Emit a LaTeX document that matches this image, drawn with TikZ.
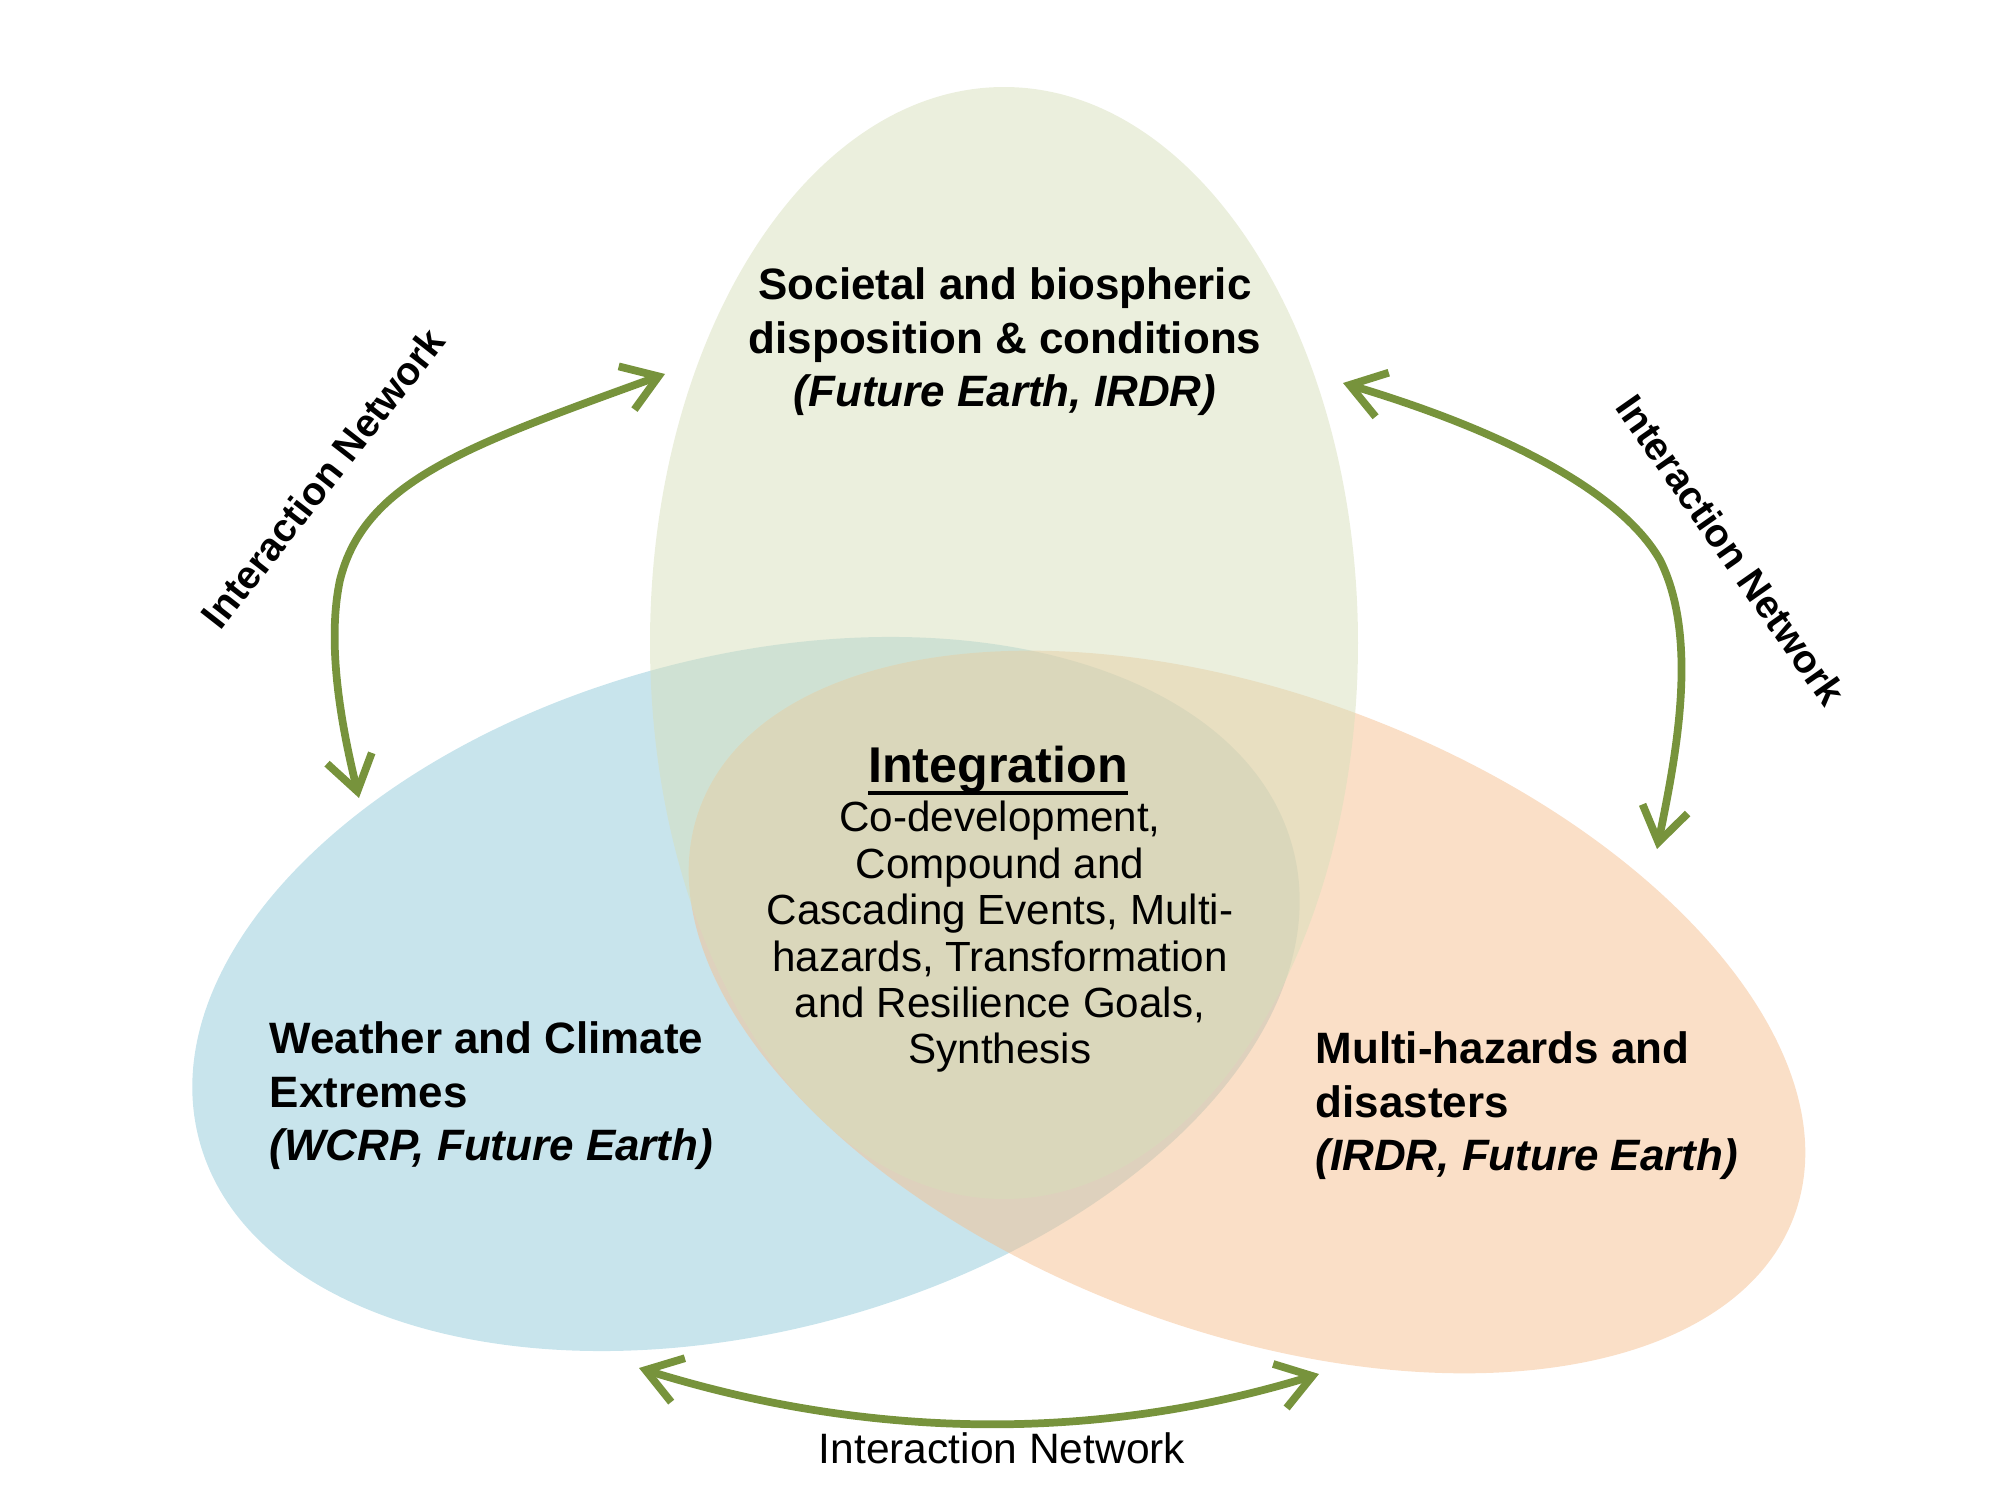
\documentclass[tikz,border=0pt]{standalone}
\usepackage{fontspec}
\setmainfont{Liberation Sans}
\usetikzlibrary{arrows.meta}
\definecolor{netgreen}{RGB}{119,147,60}
\definecolor{socfill}{RGB}{215,223,187}
\definecolor{wcefill}{RGB}{145,201,217}
\definecolor{mhdfill}{RGB}{245,191,143}
\newcommand{\ulbar}[1]{\leavevmode\setbox0=\hbox{#1}\rlap{\vrule height -2.2pt depth 3.4pt width \wd0}\box0}
\tikzset{
  net/.style={draw=netgreen, line width=2.2pt, line cap=round,
    {Straight Barb[length=3.4mm,width=4.6mm]}-{Straight Barb[length=3.4mm,width=4.6mm]}},
  lbl/.style={font=\fontsize{12.5}{15.2}\selectfont\bfseries, inner sep=0pt},
  netlbl/.style={font=\fontsize{11.2}{13}\selectfont\bfseries, inner sep=0pt},
}

\begin{document}
\begin{tikzpicture}[x=0.1mm,y=-0.1mm]
\useasboundingbox (0,0) rectangle (2000,1500);
\fill[wcefill, fill opacity=0.5] (746,994) ellipse [x radius=56.6mm, y radius=33.7mm, rotate=15];
\fill[mhdfill, fill opacity=0.5] (1247,1012) ellipse [x radius=58.4mm, y radius=31.8mm, rotate=-20.5];
\fill[socfill, fill opacity=0.5] (1004,643) ellipse [x radius=35.4mm, y radius=55.6mm];

\node[lbl, align=center] (soc) at (1005,342) {Societal and biospheric\\disposition \& conditions\\\textit{(Future Earth, IRDR)}};
\node[lbl, align=left, anchor=west] (wce) at (269,1096) {Weather and Climate\\Extremes\\\textit{(WCRP, Future Earth)}};
\node[lbl, align=left, anchor=west] (mhd) at (1315,1106) {Multi-hazards and\\disasters\\\textit{(IRDR, Future Earth)}};
\node[font=\fontsize{14.3}{16}\selectfont\bfseries, anchor=base, inner sep=0pt] (integ) at (998,783) {\ulbar{Integration}};
\node[font=\fontsize{12}{13.2}\selectfont, align=center, inner sep=0pt] (integtxt) at (1000,937) {Co-development,\\Compound and\\Cascading Events, Multi-\\hazards, Transformation\\and Resilience Goals,\\Synthesis};

\node[netlbl, rotate=52] (netleft) at (323,478) {Interaction Network};
\node[netlbl, rotate=-55] (netright) at (1731,550) {Interaction Network};
\node[font=\fontsize{12.1}{14}\selectfont, anchor=base, inner sep=0pt] (netbottom) at (1002,1463) {Interaction Network};

\coordinate (socW) at (665,374);
\coordinate (wceN) at (359,798);
\coordinate (socE) at (1343,383);
\coordinate (mhdN) at (1657,849);
\coordinate (wceS) at (639,1368);
\coordinate (mhdS) at (1319,1374);

\draw[net] (socW) .. controls (470,445) and (365,480) .. (340,580) .. controls (325,650) and (345,740) .. (wceN);
\draw[net] (socE) .. controls (1500,430) and (1620,490) .. (1660,560) .. controls (1700,640) and (1675,760) .. (mhdN);
\draw[net] (wceS) .. controls (870,1440) and (1097,1442) .. (mhdS);
\end{tikzpicture}
\end{document}
